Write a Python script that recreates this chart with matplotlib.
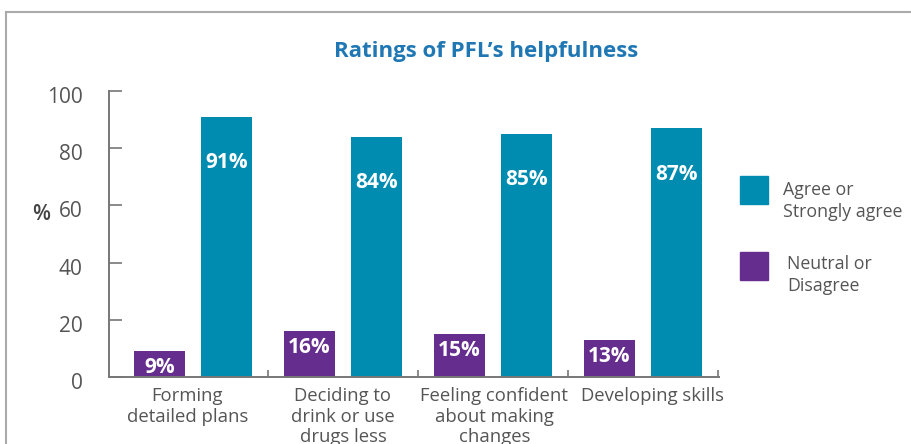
import numpy as np
import matplotlib.pyplot as plt
import matplotlib.transforms as mtransforms
from matplotlib.lines import Line2D
from matplotlib.patches import Rectangle

plt.rcParams['font.family'] = ['Open Sans', 'DejaVu Sans']

categories = ["Forming\ndetailed plans",
              "Deciding to\ndrink or use\ndrugs less",
              "Feeling confident\nabout making\nchanges",
              "Developing skills"]
neutral = [9, 16, 15, 13]
agree = [91, 84, 85, 87]
yticks = [0, 20, 40, 60, 80, 100]

TEAL = '#008bb0'
PURPLE = '#652d8e'
GREY = '#555555'

fig = plt.figure(figsize=(9.12, 4.44), dpi=100)
ax = fig.add_axes([109/912, 67/444, 610/912, 286/444])

x = np.arange(len(categories))
w = 0.34
off = 0.223
b1 = ax.bar(x - off, neutral, w, color=PURPLE)
b2 = ax.bar(x + off, agree, w, color=TEAL)

for rect, v in zip(b1, neutral):
    ax.annotate(f"{v}%", (rect.get_x() + rect.get_width()/2, v),
                xytext=(0, -12), textcoords='offset points',
                ha='center', va='center', color='white',
                fontsize=15, fontweight='bold')
for rect, v in zip(b2, agree):
    ax.annotate(f"{v}%", (rect.get_x() + rect.get_width()/2, v),
                xytext=(0, -33), textcoords='offset points',
                ha='center', va='center', color='white',
                fontsize=15, fontweight='bold')

ax.set_xlim(-0.56, 3.507)
ax.set_ylim(0, 100)
ax.set_yticks(yticks)
ax.tick_params(axis='y', direction='in', length=9, width=1.2,
               color='#777777', labelcolor=GREY, labelsize=15, pad=19)
# labels sit a little below their ticks in the original
shift = mtransforms.ScaledTranslation(0, -4/100, fig.dpi_scale_trans)
for lab in ax.get_yticklabels():
    lab.set_transform(lab.get_transform() + shift)

ax.set_xticks([0.5, 1.5, 2.5, 3.5])
ax.set_xticklabels([])
ax.tick_params(axis='x', direction='in', length=5, width=1.2, color='#777777')
nudge = [-4, 0, 1, 7]  # points; labels are not quite centred in the original
for xi, lab, dx in zip(x, categories, nudge):
    ax.annotate(lab, (xi, 0), xytext=(dx, -7), textcoords='offset points',
                ha='center', va='top', fontsize=13.3, color=GREY,
                linespacing=1.2, annotation_clip=False)

for s in ['top', 'right']:
    ax.spines[s].set_visible(False)
for s in ['left', 'bottom']:
    ax.spines[s].set_color('#777777')
    ax.spines[s].set_linewidth(1.4)

fig.text(41/912, 1 - 214/444, '%', ha='center', va='center',
         fontsize=15, color='#444444', fontweight='semibold')
fig.text(486/912, 1 - 51/444, "Ratings of PFL\u2019s helpfulness",
         ha='center', va='center', fontsize=16, fontweight='bold',
         color='#1f78b4')

# legend
fig.patches.append(Rectangle((740/912, 1 - 204/444), 28/912, 28/444,
                             transform=fig.transFigure, color=TEAL))
fig.patches.append(Rectangle((740/912, 1 - 280/444), 28/912, 28/444,
                             transform=fig.transFigure, color=PURPLE))
fig.text(783/912, 1 - 201/444, "Agree or\nStrongly agree", ha='left',
         va='center', fontsize=12.8, color=GREY, linespacing=1.3)
fig.text(787/912, 1 - 275/444, "Neutral or\nDisagree", ha='left',
         va='center', fontsize=12.8, color=GREY, linespacing=1.3)

# outer frame
fig.add_artist(Line2D([6/912, 1], [1 - 12/444, 1 - 12/444],
                      transform=fig.transFigure, color='#aaaaaa', lw=1.5))
fig.add_artist(Line2D([6/912, 6/912], [0, 1 - 12/444],
                      transform=fig.transFigure, color='#aaaaaa', lw=1.5))

fig.savefig('out.png', dpi=100)
